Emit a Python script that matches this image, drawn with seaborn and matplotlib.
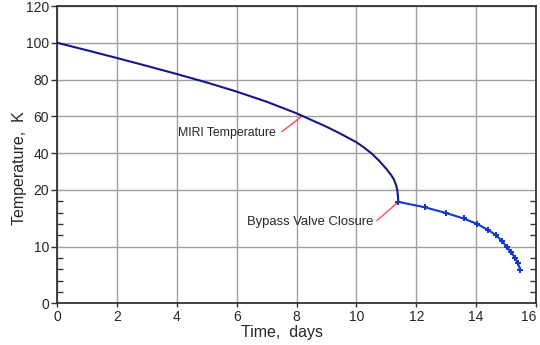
import numpy as np
import pandas as pd
import matplotlib
matplotlib.use("Agg")
import matplotlib.pyplot as plt
import matplotlib.font_manager as fm
from matplotlib.ticker import FixedLocator, FixedFormatter
import seaborn as sns

# ---- data ----
time_cool = [0, 1, 2, 3, 4, 5, 6, 7, 8, 9, 9.5, 10, 10.25, 10.5, 10.75, 11.0, 11.15,
             11.25, 11.32, 11.36, 11.385, 11.4]
temp_cool = [100, 95.9, 91.7, 87.4, 83.0, 78.4, 73.45, 67.95, 61.65, 54.35, 50.3, 45.9,
             43.1, 39.9, 36.0, 31.4, 28.3, 25.7, 22.8, 20.3, 18.9, 17.9]
time_bypass = [11.4, 12.28, 12.99, 13.58, 14.03, 14.40, 14.67, 14.87, 15.02, 15.16, 15.30, 15.40, 15.47]
temp_bypass = [17.9, 16.95, 15.94, 14.97, 14.0, 12.95, 12.0, 10.95, 9.95, 9.1, 8.0, 7.05, 5.9]

x_ticks = [0, 2, 4, 6, 8, 10, 12, 14, 16]
y_ticks = [0, 10, 20, 40, 60, 80, 100, 120]
y_minor = [2, 4, 6, 8, 12, 14, 16, 18]

ann_miri = "MIRI Temperature"
ann_bypass = "Bypass Valve Closure"

# ---- style ----
sns.set_style("white")
names = {f.name for f in fm.fontManager.ttflist}
base = "Liberation Sans" if "Liberation Sans" in names else "DejaVu Sans"
plt.rcParams["font.family"] = [base, "DejaVu Sans"]

fig = plt.figure(figsize=(5.4, 3.45), dpi=100)
ax = fig.add_axes([57.3 / 540, 1 - 303.3 / 345, (536 - 57.3) / 540, (303.3 - 6) / 345])

# piecewise linear y scale: 0-20 expanded, 20-120 compressed
K = 3.08


def fwd(y):
    y = np.asarray(y, dtype=float)
    return np.where(y <= 20, y * K, 20 * K + (y - 20))


def inv(u):
    u = np.asarray(u, dtype=float)
    return np.where(u <= 20 * K, u / K, (u - 20 * K) + 20)


ax.set_yscale("function", functions=(fwd, inv))

df1 = pd.DataFrame({"t": time_cool, "T": temp_cool})
df2 = pd.DataFrame({"t": time_bypass, "T": temp_bypass})

sns.lineplot(data=df1, x="t", y="T", ax=ax, color="#16168a", lw=1.5, estimator=None, zorder=3)
sns.lineplot(data=df2, x="t", y="T", ax=ax, color="#1438cc", lw=1.5, estimator=None,
             marker="P", markersize=4.2, markeredgewidth=0, zorder=3)

ax.set_xlim(0, 16)
ax.set_ylim(0, 120)
ax.xaxis.set_major_locator(FixedLocator(x_ticks))
ax.set_xticklabels([str(v) for v in x_ticks])
ax.yaxis.set_major_locator(FixedLocator(y_ticks))
ax.yaxis.set_major_formatter(FixedFormatter([str(v) for v in y_ticks]))
ax.yaxis.set_minor_locator(FixedLocator(y_minor))

ax.grid(True, which="major", color="#a0a0a0", lw=1.0)
ax.set_axisbelow(True)
for s in ax.spines.values():
    s.set_color("#333333")
    s.set_linewidth(1.3)

ax.tick_params(axis="y", which="major", direction="out", length=4, width=1, left=True,
               labelsize=10, pad=2, color="#333333")
ax.tick_params(axis="y", which="minor", direction="in", length=4, width=1, left=True, right=True,
               color="#333333")
ax.tick_params(axis="x", which="major", direction="out", length=3, width=1, bottom=True,
               labelsize=10, pad=2, color="#333333")
# keep the last x label inside the figure
xl = ax.get_xticklabels()
xl[-1].set_horizontalalignment("right")

ax.set_xlabel("Time,  days", fontsize=11.5)
ax.set_ylabel("Temperature,  K", fontsize=11.5)
ax.xaxis.set_label_coords(0.47, -0.074)
ax.yaxis.set_label_coords(-0.064, 0.455)

# annotations
ax.plot([7.505, 8.17], [51.7, 60.0], color="#ff4040", lw=0.9, zorder=2)
ax.text(7.31, 51.0, ann_miri, ha="right", va="center", fontsize=8.8)
ax.plot([10.68, 11.4], [14.6, 17.9], color="#ff4040", lw=0.9, zorder=2)
ax.text(10.57, 14.4, ann_bypass, ha="right", va="center", fontsize=9.4)

fig.savefig("out.png", dpi=100)
